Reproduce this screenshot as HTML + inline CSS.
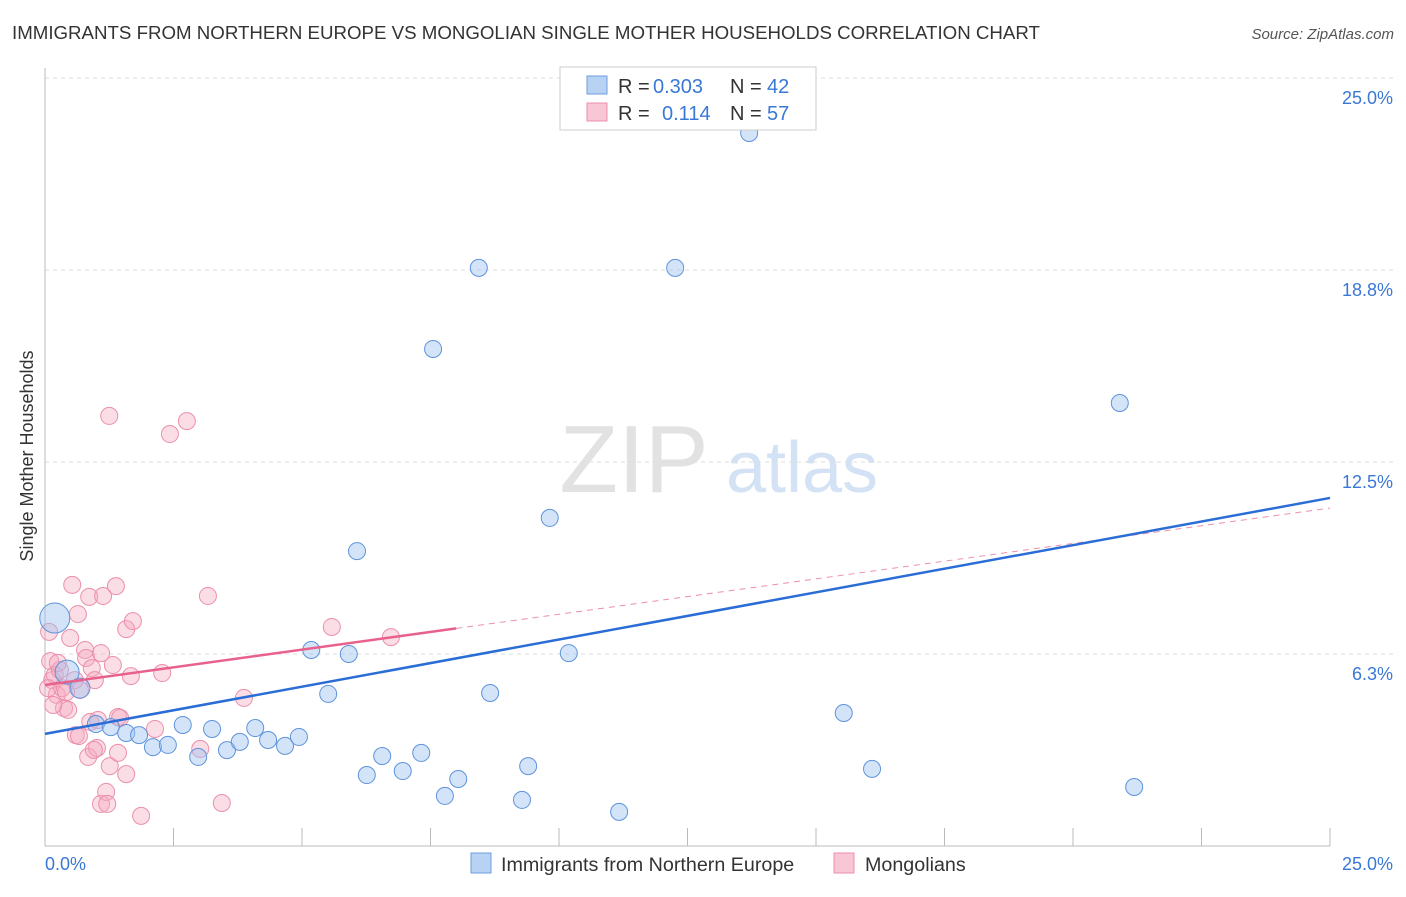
<!DOCTYPE html>
<html><head><meta charset="utf-8"><style>
body{margin:0;background:#fff;font-family:"Liberation Sans",sans-serif;}
svg text{font-family:"Liberation Sans",sans-serif;}
</style></head><body>
<svg id="chart" width="1406" height="892" xmlns="http://www.w3.org/2000/svg">
<text x="12" y="39" font-size="18.7" fill="#333">IMMIGRANTS FROM NORTHERN EUROPE VS MONGOLIAN SINGLE MOTHER HOUSEHOLDS CORRELATION CHART</text>
<text x="1394" y="39" font-size="15" fill="#555" font-style="italic" text-anchor="end">Source: ZipAtlas.com</text>
<text x="634" y="492" font-size="96" fill="#e2e2e2" font-family="Liberation Serif" text-anchor="middle">ZIP</text>
<text x="802" y="492" font-size="72" fill="#d3e2f5" text-anchor="middle">atlas</text>
<text transform="translate(33,456) rotate(-90)" font-size="18" fill="#333" text-anchor="middle">Single Mother Households</text>
<g id="grid"></g><g id="marks"></g>
<g>
<rect x="560" y="67" width="256" height="63" fill="#fff" stroke="#ccc"/>
<rect x="587" y="76" width="20" height="18" fill="#b8d2f4" stroke="#6d9fe0"/>
<text x="618" y="93" font-size="20" fill="#333">R =</text>
<text x="653" y="93" font-size="20" fill="#3a78d6">0.303</text>
<text x="730" y="93" font-size="20" fill="#333">N =</text>
<text x="767" y="93" font-size="20" fill="#3a78d6">42</text>
<rect x="587" y="103" width="20" height="18" fill="#f8c6d4" stroke="#ec8fab"/>
<text x="618" y="120" font-size="20" fill="#333">R =</text>
<text x="662" y="120" font-size="20" fill="#3a78d6">0.114</text>
<text x="730" y="120" font-size="20" fill="#333">N =</text>
<text x="767" y="120" font-size="20" fill="#3a78d6">57</text>
</g>
<g>
<rect x="471" y="853" width="20" height="20" fill="#b8d2f4" stroke="#6d9fe0"/>
<text x="501" y="871" font-size="19.7" fill="#333">Immigrants from Northern Europe</text>
<rect x="834" y="853" width="20" height="20" fill="#f8c6d4" stroke="#ec8fab"/>
<text x="865" y="871" font-size="19.7" fill="#333">Mongolians</text>
</g>
</svg>
<script>
const yTicks=[25,18.75,12.5,6.25];
const yTickLabels=["25.0%","18.8%","12.5%","6.3%"];
const xTickLabels=["0.0%","25.0%"];
const blueX=[0.19,0.43,0.68,0.99,1.28,1.58,1.83,2.10,2.39,2.68,2.98,3.25,3.54,3.79,4.09,4.34,4.67,4.94,5.18,5.51,5.91,6.07,6.26,6.56,6.96,7.32,7.55,7.78,8.04,8.44,8.66,9.28,9.40,9.82,10.19,11.17,12.26,13.70,15.54,16.09,20.91,21.19];
const blueY=[7.42,5.66,5.14,3.97,3.87,3.68,3.61,3.22,3.29,3.94,2.90,3.81,3.12,3.39,3.84,3.45,3.26,3.55,6.38,4.95,6.25,9.60,2.31,2.93,2.44,3.03,16.18,1.63,2.18,18.82,4.98,1.50,2.60,10.68,6.28,1.11,18.82,23.21,4.33,2.51,14.42,1.92];
const blueR=[15,12,10];
const pinkX=[0.08,0.10,0.14,0.19,0.23,0.29,0.33,0.37,0.41,0.45,0.49,0.53,0.58,0.64,0.68,0.60,0.66,0.78,0.80,0.86,0.84,0.88,0.91,0.97,1.01,1.03,1.09,1.13,1.09,1.19,1.21,1.25,1.26,1.32,1.38,1.42,1.42,1.46,1.58,1.58,1.71,1.67,1.87,2.14,2.28,2.43,2.76,3.02,3.17,3.44,3.87,5.58,6.73,0.06,0.16,0.25,0.95];
const pinkY=[6.97,6.02,5.40,5.57,4.92,5.73,5.14,4.49,5.01,4.43,6.77,8.50,5.40,7.55,5.08,3.61,3.58,6.38,6.12,8.11,2.90,4.04,5.79,5.40,3.19,4.10,6.28,8.14,1.37,1.76,1.37,14.00,2.60,5.89,8.46,4.20,3.03,4.17,2.34,7.06,7.32,5.53,0.98,3.81,5.63,13.41,13.83,3.16,8.14,1.40,4.82,7.13,6.80,5.14,4.59,5.96,3.13];
const blueTrend=[3.65,11.33];
const pinkTrend=[5.24,11.0];
const pinkSolidEnd=8.0;
const NS="http://www.w3.org/2000/svg";
const X0=45,X1=1330,Y0=846,PPU=30.72;
const xs=v=>X0+v*(X1-X0)/25, ys=v=>Y0-v*PPU;
function mk(tag,attrs,parent){const e=document.createElementNS(NS,tag);for(const k in attrs)e.setAttribute(k,attrs[k]);parent.appendChild(e);return e;}
const grid=document.getElementById('grid'),marks=document.getElementById('marks');
yTicks.forEach((t,i)=>{
 const l=mk('line',{x1:X0,x2:X1+63,y1:ys(t),y2:ys(t),stroke:'#ddd','stroke-dasharray':'4,4'},grid);
 
 
 const tx=mk('text',{x:1393,y:ys(t)+26,'font-size':18,fill:'#3a78d6','text-anchor':'end'},grid);
 tx.textContent=yTickLabels[i];
 
 
});
let ax=mk('line',{x1:X0,x2:X0,y1:68,y2:Y0,stroke:'#bbb'},grid);


ax=mk('line',{x1:X0,x2:X1,y1:Y0,y2:Y0,stroke:'#bbb'},grid);


for(let i=0;i<=10;i++){const t=mk('line',{x1:xs(i*2.5),x2:xs(i*2.5),y1:Y0,y2:Y0-18+(i==0?18:0),stroke:'#bbb'},grid);
 
 }
[[0,'start',45],[25,'end',1393]].forEach((a,i)=>{const t=mk('text',{x:a[2],y:870,'font-size':18,fill:'#3a78d6','text-anchor':a[1]},grid);t.textContent=xTickLabels[i];
 
 });
pinkX.forEach((x,i)=>{const c=mk('circle',{cx:xs(x),cy:ys(pinkY[i]),r:8.5,fill:'rgba(246,170,192,0.4)',stroke:'#ec8fab','stroke-width':1},marks);
 
 });
blueX.forEach((x,i)=>{const c=mk('circle',{cx:xs(x),cy:ys(blueY[i]),r:blueR[i]||8.5,fill:'rgba(160,195,240,0.45)',stroke:'#5d93dc','stroke-width':1},marks);
 
 });
const pAt=x=>pinkTrend[0]+(pinkTrend[1]-pinkTrend[0])*x/25;
let l=mk('line',{x1:xs(pinkSolidEnd),y1:ys(pAt(pinkSolidEnd)),x2:xs(25),y2:ys(pinkTrend[1]),stroke:'#ec8fab','stroke-width':1,'stroke-dasharray':'6,5'},marks);


l=mk('line',{x1:xs(0),y1:ys(pinkTrend[0]),x2:xs(pinkSolidEnd),y2:ys(pAt(pinkSolidEnd)),stroke:'#e8608c','stroke-width':2.5},marks);


l=mk('line',{x1:xs(0),y1:ys(blueTrend[0]),x2:xs(25),y2:ys(blueTrend[1]),stroke:'#2a6dd6','stroke-width':2.5},marks);


</script>
</body></html>
